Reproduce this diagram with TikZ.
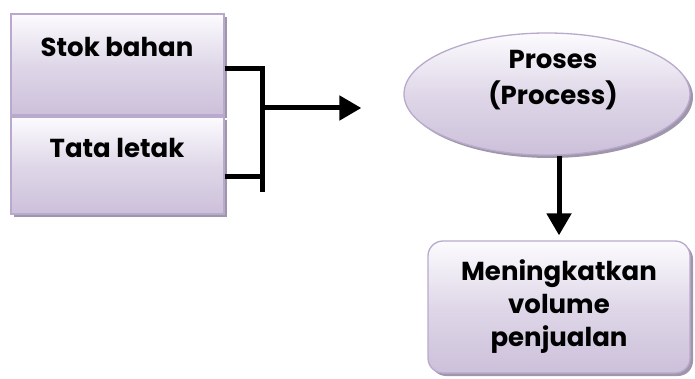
\documentclass[tikz,border=0pt]{standalone}
\usepackage{fontspec}
\setmainfont{Poppins}
\usetikzlibrary{shapes.geometric,arrows.meta,shadows}
\definecolor{lavtop}{RGB}{252,251,254}
\definecolor{lavbot}{RGB}{204,192,218}
\definecolor{lavline}{RGB}{185,170,205}
\definecolor{shadowc}{RGB}{160,150,172}
\tikzset{
  boxfill/.style={top color=lavtop, bottom color=lavbot, middle color=lavtop!40!lavbot, draw=lavline, line width=1.3pt,
    drop shadow={shadow xshift=3pt, shadow yshift=-3pt, fill=shadowc, opacity=1}},
  sqbox/.style={boxfill, rectangle, inner sep=0pt},
  lbl/.style={font=\bfseries\fontsize{26}{33}\selectfont, align=center, inner sep=0pt},
  conn/.style={line width=5pt, black},
  arr/.style={line width=5pt, black, -{Triangle[width=24pt,length=22pt]}},
}
\begin{document}
\begin{tikzpicture}[x=1pt,y=-1pt]
\useasboundingbox (0,0) rectangle (695,379);
\node[sqbox, minimum width=213pt, minimum height=101pt] (box1) at (117.5,64.5) {};
\node[sqbox, minimum width=213pt, minimum height=97pt] (box2) at (117.5,165.5) {};
\node[lbl] (t1) at (117,47) {Stok bahan};
\node[lbl] (t2) at (117,148) {Tata letak};
\node[boxfill, ellipse, minimum width=286pt, minimum height=122pt, inner sep=0pt] (ell) at (547,94) {};
\node[lbl, font=\bfseries\fontsize{26}{36}\selectfont] (t3) at (553,80) {Proses\\(Process)};
\node[boxfill, rectangle, rounded corners=15pt, minimum width=262pt, minimum height=132pt, lbl] (bot) at (559,307) {Meningkatkan\\volume\\penjualan};
\coordinate (bartop) at (262,66);
\coordinate (barbot) at (262,192);
\coordinate (j1) at (262,69);
\coordinate (j2) at (262,177);
\coordinate (jm) at (262,108);
\draw[conn] (bartop) -- (barbot);
\draw[conn] (box1.east |- j1) -- (j1);
\draw[conn] (box2.east |- j2) -- (j2);
\draw[arr] (jm) -- ([xshift=-42pt]ell.west |- jm);
\draw[arr] (bot.north |- ell.south) -- ([yshift=5pt]bot.north);
\end{tikzpicture}
\end{document}
